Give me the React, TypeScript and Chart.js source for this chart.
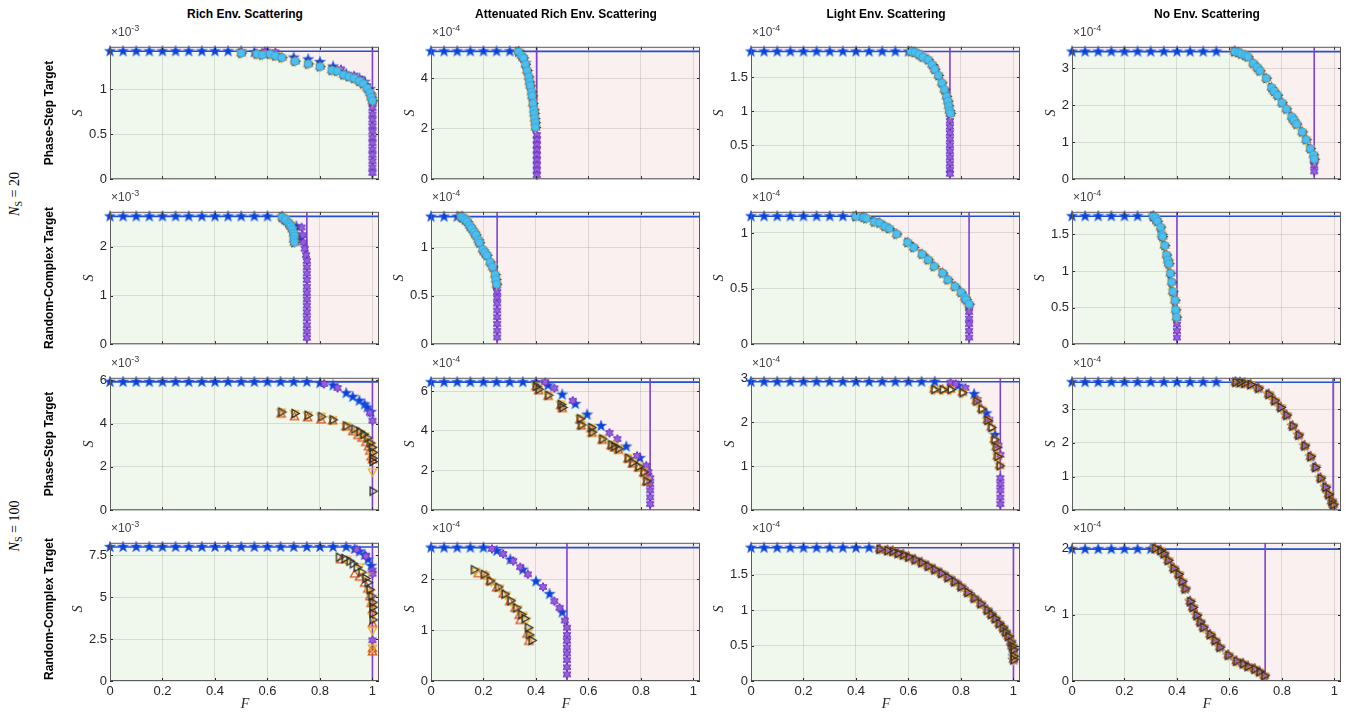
import React, { useEffect, useRef } from "react";
import { Chart, registerables } from "chart.js";
Chart.register(...registerables);

type Pt = [number, number];

// ---------- labels ----------
const columnTitles = ["Rich Env. Scattering", "Attenuated Rich Env. Scattering", "Light Env. Scattering", "No Env. Scattering"];
const rowTargets = ["Phase-Step Target", "Random-Complex Target", "Phase-Step Target", "Random-Complex Target"];
const groupSizes = ["20", "100"];
const xTicks = [0, 0.2, 0.4, 0.6, 0.8, 1];
const starGridF = [0, 0.05, 0.1, 0.15, 0.2, 0.25, 0.3, 0.35, 0.4, 0.45, 0.5, 0.55, 0.6, 0.65, 0.7, 0.75, 0.8, 0.85, 0.9];

// ---------- per-panel scalars (rows x cols) ----------
const exponents = [[-3, -4, -4, -4], [-3, -4, -4, -4], [-3, -4, -4, -4], [-3, -4, -4, -4]];
const yTickSets = [
  [[0, 0.5, 1], [0, 2, 4], [0, 0.5, 1, 1.5], [0, 1, 2, 3]],
  [[0, 1, 2], [0, 0.5, 1], [0, 0.5, 1], [0, 0.5, 1, 1.5]],
  [[0, 2, 4, 6], [0, 2, 4, 6], [0, 1, 2, 3], [0, 1, 2, 3]],
  [[0, 2.5, 5, 7.5], [0, 1, 2], [0, 0.5, 1, 1.5], [0, 1, 2]],
];
const yMaxes = [[1.47, 5.24, 1.95, 3.58], [2.72, 1.37, 1.19, 1.81], [6.11, 6.68, 3.01, 3.93], [8.25, 2.72, 1.95, 2.085]];
const sMaxes = [[1.42, 5.06, 1.88, 3.45], [2.625, 1.32, 1.15, 1.75], [5.92, 6.46, 2.92, 3.8], [8.0, 2.625, 1.88, 1.99]];
const thresholds = [[1.0, 0.403, 0.758, 0.923], [0.75, 0.252, 0.831, 0.4], [1.0, 0.835, 0.95, 0.995], [1.0, 0.518, 1.0, 0.736]];
const flatCounts = [[10, 7, 12, 12], [13, 3, 8, 6], [16, 9, 15, 12], [19, 5, 10, 7]];
const xMax = 1.025;

// ---------- row 1: N_S = 20, phase-step ----------
const richPS20Star: Pt[] = [[0.5, 1.42], [0.55, 1.41], [0.6, 1.41], [0.7, 1.35], [0.755, 1.33], [0.8, 1.3], [0.85, 1.25], [0.9, 1.17], [0.95, 1.12], [0.97, 1.08], [0.99, 1.0]];
const richPS20Purple: Pt[] = [[0.59, 1.42], [0.63, 1.41], [0.88, 1.22], [0.93, 1.15], [0.96, 1.1], [0.98, 1.03], [1.0, 0.92]];
const richPS20Drop = [0.85, 0.79, 0.72, 0.66, 0.59, 0.53, 0.46, 0.4, 0.33, 0.27, 0.2, 0.13, 0.07];
const richPS20Curve: Pt[] = [[0.5, 1.4], [0.56, 1.39], [0.58, 1.38], [0.61, 1.39], [0.63, 1.37], [0.655, 1.35], [0.705, 1.31], [0.755, 1.28], [0.8, 1.25], [0.845, 1.21], [0.865, 1.2], [0.89, 1.16], [0.91, 1.14], [0.93, 1.12], [0.95, 1.09], [0.965, 1.06], [0.98, 1.01], [0.99, 0.96], [0.995, 0.91], [1.0, 0.87]];

const attPS20Star: Pt[] = [[0.335, 5.04], [0.36, 4.6]];
const attPS20Purple: Pt[] = [[0.34, 5.0], [0.385, 3.3], [0.4, 2.1]];
const attPS20Drop = [1.75, 1.55, 1.35, 1.15, 0.95, 0.75, 0.55, 0.35, 0.16];
const attPS20Curve: Pt[] = [[0.333, 5.05], [0.345, 4.9], [0.352, 4.8], [0.36, 4.55], [0.366, 4.3], [0.372, 4.05], [0.375, 3.85], [0.378, 3.7], [0.383, 3.45], [0.385, 3.3], [0.388, 3.0], [0.392, 2.75], [0.393, 2.6], [0.395, 2.4], [0.397, 2.24], [0.398, 2.05]];

const lightPS20Star: Pt[] = [[0.6, 1.88], [0.65, 1.82]];
const lightPS20Purple: Pt[] = [[0.62, 1.88], [0.7, 1.64], [0.745, 1.24], [0.758, 0.96]];
const lightPS20Drop = [0.86, 0.77, 0.68, 0.59, 0.5, 0.41, 0.32, 0.23, 0.14, 0.08];
const lightPS20Curve: Pt[] = [[0.61, 1.88], [0.625, 1.87], [0.64, 1.84], [0.655, 1.8], [0.675, 1.76], [0.69, 1.69], [0.7, 1.62], [0.714, 1.53], [0.727, 1.42], [0.737, 1.32], [0.745, 1.22], [0.75, 1.15], [0.753, 1.08], [0.756, 1.01], [0.76, 0.97]];

const nonePS20Star: Pt[] = [[0.62, 3.46]];
const nonePS20Purple: Pt[] = [[0.63, 3.44], [0.923, 0.5]];
const nonePS20Drop = [0.37, 0.21];
const nonePS20Curve: Pt[] = [[0.62, 3.45], [0.635, 3.43], [0.645, 3.39], [0.66, 3.35], [0.67, 3.31], [0.69, 3.14], [0.705, 3.03], [0.716, 2.93], [0.74, 2.73], [0.76, 2.48], [0.77, 2.38], [0.783, 2.27], [0.8, 2.07], [0.817, 1.9], [0.837, 1.69], [0.845, 1.6], [0.856, 1.49], [0.877, 1.28], [0.892, 1.07], [0.908, 0.83], [0.92, 0.66], [0.923, 0.54]];

// ---------- row 2: N_S = 20, random-complex ----------
const richRC20Star: Pt[] = [[0.656, 2.62], [0.71, 2.42], [0.724, 2.17]];
const richRC20Purple: Pt[] = [[0.73, 2.4], [0.734, 2.24], [0.737, 2.09], [0.742, 1.96], [0.747, 1.83]];
const richRC20Drop = [1.71, 1.58, 1.45, 1.32, 1.18, 1.05, 0.92, 0.79, 0.66, 0.53, 0.39, 0.26, 0.13];
const richRC20Curve: Pt[] = [[0.656, 2.61], [0.665, 2.57], [0.67, 2.55], [0.68, 2.5], [0.686, 2.46], [0.69, 2.42], [0.695, 2.36], [0.7, 2.28], [0.703, 2.22], [0.7, 2.15], [0.703, 2.09]];

const attRC20Star: Pt[] = [[0.12, 1.32]];
const attRC20Purple: Pt[] = [[0.25, 0.6]];
const attRC20Drop = [0.54, 0.48, 0.42, 0.35, 0.28, 0.21, 0.14, 0.07];
const attRC20Curve: Pt[] = [[0.115, 1.32], [0.121, 1.31], [0.13, 1.29], [0.138, 1.27], [0.147, 1.23], [0.155, 1.2], [0.165, 1.16], [0.171, 1.13], [0.18, 1.08], [0.185, 1.05], [0.197, 0.98], [0.205, 0.95], [0.213, 0.92], [0.225, 0.85], [0.235, 0.8], [0.244, 0.72], [0.247, 0.67], [0.25, 0.62]];

const lightRC20Star: Pt[] = [[0.4, 1.15]];
const lightRC20Purple: Pt[] = [[0.831, 0.34]];
const lightRC20Drop = [0.29, 0.23, 0.18, 0.12, 0.06];
const lightRC20Curve: Pt[] = [[0.4, 1.15], [0.43, 1.14], [0.44, 1.13], [0.47, 1.1], [0.49, 1.09], [0.51, 1.06], [0.527, 1.04], [0.555, 0.99], [0.597, 0.915], [0.62, 0.87], [0.652, 0.81], [0.675, 0.76], [0.698, 0.7], [0.73, 0.64], [0.75, 0.58], [0.777, 0.52], [0.8, 0.467], [0.815, 0.42], [0.82, 0.4], [0.831, 0.36]];

const noneRC20Star: Pt[] = [[0.31, 1.75]];
const noneRC20Purple: Pt[] = [[0.4, 0.36]];
const noneRC20Drop = [0.27, 0.18, 0.09];
const noneRC20Curve: Pt[] = [[0.31, 1.75], [0.318, 1.72], [0.325, 1.68], [0.3375, 1.6], [0.342, 1.5], [0.345, 1.47], [0.353, 1.35], [0.36, 1.22], [0.365, 1.15], [0.369, 1.1], [0.375, 0.97], [0.38, 0.85], [0.384, 0.72], [0.392, 0.6], [0.395, 0.47], [0.398, 0.37]];

// ---------- row 3: N_S = 100, phase-step ----------
const richPS100Star: Pt[] = [[0.8, 5.87], [0.85, 5.76], [0.9, 5.4], [0.925, 5.23], [0.95, 5.05], [0.97, 4.88], [0.98, 4.74], [0.994, 4.53]];
const richPS100Purple: Pt[] = [[0.816, 5.83], [0.867, 5.64], [0.99, 4.5], [1.0, 4.13]];
const richPS100Drop: number[] = [];
const richPS100Black: Pt[] = [[0.652, 4.53], [0.703, 4.46], [0.753, 4.38], [0.804, 4.31], [0.848, 4.17], [0.899, 3.89], [0.93, 3.75], [0.95, 3.62], [0.965, 3.5], [0.98, 3.33], [0.99, 3.1], [0.997, 2.9], [1.0, 2.67], [1.0, 2.4], [1.0, 2.25], [1.0, 0.88]];
const richPS100Orange: Pt[] = [[0.652, 4.41], [0.703, 4.29], [0.753, 4.24], [0.804, 4.14], [0.848, 4.1], [0.899, 3.82], [0.925, 3.6], [0.945, 3.42], [0.96, 3.3], [0.975, 3.1], [0.985, 2.9], [0.99, 2.7], [0.995, 2.43], [1.0, 2.3]];
const richPS100Yellow: Pt[] = [[0.652, 4.55], [0.703, 4.48], [0.753, 4.42], [0.804, 4.36], [0.848, 4.2], [0.899, 3.92], [0.935, 3.7], [0.955, 3.55], [0.97, 3.45], [0.985, 3.2], [0.995, 3.0], [1.0, 2.8], [1.0, 2.5], [1.0, 1.8]];

const attPS100Star: Pt[] = [[0.446, 6.3], [0.5, 5.83], [0.55, 5.36], [0.595, 4.82], [0.648, 4.25], [0.744, 3.21], [0.796, 2.63]];
const attPS100Purple: Pt[] = [[0.435, 6.46], [0.47, 6.15], [0.54, 5.52], [0.68, 3.9], [0.71, 3.59], [0.785, 2.74], [0.82, 2.24], [0.828, 1.93]];
const attPS100Drop = [1.62, 1.31, 1.0, 0.65, 0.31];
const attPS100Black: Pt[] = [[0.4, 6.25], [0.41, 6.1], [0.446, 5.8], [0.494, 5.33], [0.5, 5.18], [0.567, 4.61], [0.572, 4.3], [0.61, 4.17], [0.613, 3.94], [0.652, 3.59], [0.686, 3.3], [0.698, 3.21], [0.714, 3.1], [0.75, 2.63], [0.767, 2.4], [0.79, 2.2], [0.81, 1.93], [0.82, 1.47]];
const attPS100Orange: Pt[] = [[0.4, 6.2], [0.41, 6.0], [0.446, 5.72], [0.494, 5.25], [0.5, 5.1], [0.567, 4.52], [0.572, 4.22], [0.61, 4.08], [0.613, 3.86], [0.652, 3.5], [0.686, 3.22], [0.698, 3.12], [0.714, 3.0], [0.75, 2.55], [0.767, 2.3], [0.79, 2.1], [0.81, 1.85], [0.82, 1.4]];
const attPS100Yellow: Pt[] = [[0.4, 6.3], [0.41, 6.15], [0.446, 5.85], [0.494, 5.38], [0.5, 5.24], [0.567, 4.66], [0.572, 4.35], [0.61, 4.2], [0.613, 3.99], [0.652, 3.64], [0.686, 3.35], [0.698, 3.26], [0.714, 3.14], [0.75, 2.68], [0.767, 2.45], [0.79, 2.25], [0.81, 1.98], [0.82, 1.52]];

const lightPS100Star: Pt[] = [[0.79, 2.83], [0.85, 2.64], [0.897, 2.2], [0.93, 1.71]];
const lightPS100Purple: Pt[] = [[0.76, 2.9], [0.78, 2.87], [0.817, 2.78], [0.863, 2.51], [0.908, 2.06], [0.943, 1.47], [0.95, 1.26]];
const lightPS100Drop = [0.73, 0.59, 0.45, 0.29, 0.14];
const lightPS100Black: Pt[] = [[0.698, 2.74], [0.73, 2.74], [0.76, 2.74], [0.805, 2.67], [0.858, 2.48], [0.878, 2.3], [0.9, 2.04], [0.915, 1.88], [0.927, 1.6], [0.934, 1.43], [0.938, 1.22], [0.947, 1.01]];

const nonePS100Curve: Pt[] = [[0.623, 3.8], [0.64, 3.79], [0.657, 3.77], [0.68, 3.73], [0.71, 3.62], [0.749, 3.44], [0.772, 3.25], [0.795, 3.05], [0.817, 2.82], [0.84, 2.5], [0.863, 2.23], [0.886, 1.91], [0.909, 1.59], [0.927, 1.27], [0.947, 0.95], [0.966, 0.68], [0.977, 0.47], [0.989, 0.27], [0.995, 0.16]];

// ---------- row 4: N_S = 100, random-complex ----------
const richRC100Star: Pt[] = [[0.932, 7.88], [0.951, 7.73], [0.97, 7.53], [0.983, 7.25], [0.995, 6.87]];
const richRC100Purple: Pt[] = [[0.94, 7.85], [0.975, 7.45], [1.0, 6.6], [1.0, 6.4], [1.0, 2.43]];
const richRC100Drop: number[] = [];
const richRC100Black: Pt[] = [[0.872, 7.39], [0.893, 7.31], [0.912, 7.16], [0.925, 7.0], [0.94, 6.78], [0.957, 6.5], [0.973, 6.12], [0.982, 5.87], [0.989, 5.45], [0.995, 5.07], [0.999, 4.7], [1.0, 4.4], [1.0, 4.04], [1.0, 3.65]];
const richRC100Orange: Pt[] = [[0.88, 7.2], [0.932, 6.35], [0.951, 6.17], [0.97, 5.8], [0.983, 5.45], [0.99, 5.0], [0.995, 4.6], [1.0, 4.2], [1.0, 3.4], [1.0, 1.9], [1.0, 1.7]];
const richRC100Yellow: Pt[] = [[0.9, 7.25], [0.951, 6.85], [0.975, 6.3], [0.99, 5.3], [0.998, 4.5], [1.0, 3.9], [1.0, 3.05], [1.0, 2.0]];

const attRC100Star: Pt[] = [[0.251, 2.56], [0.302, 2.39], [0.35, 2.19], [0.4, 1.96], [0.452, 1.71], [0.5, 1.35]];
const attRC100Purple: Pt[] = [[0.232, 2.6], [0.275, 2.5], [0.313, 2.36], [0.34, 2.24], [0.369, 2.1], [0.427, 1.85], [0.47, 1.57], [0.49, 1.44], [0.51, 1.19]];
const attRC100Drop = [1.05, 0.91, 0.79, 0.66, 0.54, 0.41, 0.27, 0.13];
const attRC100Black: Pt[] = [[0.163, 2.19], [0.201, 2.1], [0.224, 1.97], [0.255, 1.85], [0.28, 1.71], [0.302, 1.58], [0.324, 1.44], [0.343, 1.31], [0.356, 1.23], [0.369, 1.05], [0.373, 0.91], [0.383, 0.8]];
const attRC100Orange: Pt[] = [[0.18, 2.1], [0.21, 2.07], [0.224, 1.95], [0.25, 1.82], [0.275, 1.7], [0.3, 1.55], [0.32, 1.42], [0.336, 1.28], [0.34, 1.18], [0.366, 0.91], [0.373, 0.77]];
const attRC100Yellow: Pt[] = [[0.17, 2.17], [0.205, 2.09], [0.23, 1.96], [0.26, 1.84], [0.285, 1.7], [0.305, 1.57], [0.33, 1.43], [0.35, 1.3], [0.362, 1.2], [0.372, 1.0], [0.378, 0.85]];

const lightRC100Curve: Pt[] = [[0.49, 1.86], [0.52, 1.84], [0.54, 1.83], [0.56, 1.8], [0.58, 1.78], [0.6, 1.75], [0.625, 1.71], [0.65, 1.67], [0.675, 1.62], [0.7, 1.57], [0.725, 1.52], [0.75, 1.46], [0.775, 1.4], [0.8, 1.33], [0.825, 1.25], [0.85, 1.17], [0.875, 1.09], [0.9, 1.0], [0.915, 0.94], [0.93, 0.88], [0.945, 0.81], [0.96, 0.75], [0.97, 0.69], [0.98, 0.63], [0.99, 0.55], [0.995, 0.49], [1.0, 0.44], [1.0, 0.35], [1.0, 0.3]];

const noneRC100Curve: Pt[] = [[0.316, 2.0], [0.337, 1.97], [0.35, 1.92], [0.366, 1.82], [0.387, 1.7], [0.406, 1.61], [0.419, 1.5], [0.431, 1.39], [0.45, 1.2], [0.46, 1.11], [0.475, 0.99], [0.488, 0.89], [0.5, 0.81], [0.526, 0.7], [0.545, 0.61], [0.563, 0.51], [0.595, 0.39], [0.626, 0.3], [0.652, 0.26], [0.67, 0.22], [0.696, 0.18], [0.714, 0.14], [0.733, 0.08]];

const noDrop: number[] = [];

type Series = { star: Pt[]; purple: Pt[]; drop: number[]; cyan: Pt[] | null; black: Pt[]; orange: Pt[]; yellow: Pt[] };
const panelSeries: Series[][] = [
  [
    { star: richPS20Star, purple: richPS20Purple, drop: richPS20Drop, cyan: richPS20Curve, black: richPS20Curve, orange: richPS20Curve, yellow: richPS20Curve },
    { star: attPS20Star, purple: attPS20Purple, drop: attPS20Drop, cyan: attPS20Curve, black: attPS20Curve, orange: attPS20Curve, yellow: attPS20Curve },
    { star: lightPS20Star, purple: lightPS20Purple, drop: lightPS20Drop, cyan: lightPS20Curve, black: lightPS20Curve, orange: lightPS20Curve, yellow: lightPS20Curve },
    { star: nonePS20Star, purple: nonePS20Purple, drop: nonePS20Drop, cyan: nonePS20Curve, black: nonePS20Curve, orange: nonePS20Curve, yellow: nonePS20Curve },
  ],
  [
    { star: richRC20Star, purple: richRC20Purple, drop: richRC20Drop, cyan: richRC20Curve, black: richRC20Curve, orange: richRC20Curve, yellow: richRC20Curve },
    { star: attRC20Star, purple: attRC20Purple, drop: attRC20Drop, cyan: attRC20Curve, black: attRC20Curve, orange: attRC20Curve, yellow: attRC20Curve },
    { star: lightRC20Star, purple: lightRC20Purple, drop: lightRC20Drop, cyan: lightRC20Curve, black: lightRC20Curve, orange: lightRC20Curve, yellow: lightRC20Curve },
    { star: noneRC20Star, purple: noneRC20Purple, drop: noneRC20Drop, cyan: noneRC20Curve, black: noneRC20Curve, orange: noneRC20Curve, yellow: noneRC20Curve },
  ],
  [
    { star: richPS100Star, purple: richPS100Purple, drop: richPS100Drop, cyan: null, black: richPS100Black, orange: richPS100Orange, yellow: richPS100Yellow },
    { star: attPS100Star, purple: attPS100Purple, drop: attPS100Drop, cyan: null, black: attPS100Black, orange: attPS100Orange, yellow: attPS100Yellow },
    { star: lightPS100Star, purple: lightPS100Purple, drop: lightPS100Drop, cyan: null, black: lightPS100Black, orange: lightPS100Black, yellow: lightPS100Black },
    { star: nonePS100Curve, purple: nonePS100Curve, drop: noDrop, cyan: null, black: nonePS100Curve, orange: nonePS100Curve, yellow: nonePS100Curve },
  ],
  [
    { star: richRC100Star, purple: richRC100Purple, drop: richRC100Drop, cyan: null, black: richRC100Black, orange: richRC100Orange, yellow: richRC100Yellow },
    { star: attRC100Star, purple: attRC100Purple, drop: attRC100Drop, cyan: null, black: attRC100Black, orange: attRC100Orange, yellow: attRC100Yellow },
    { star: lightRC100Curve, purple: lightRC100Curve, drop: noDrop, cyan: null, black: lightRC100Curve, orange: lightRC100Curve, yellow: lightRC100Curve },
    { star: noneRC100Curve, purple: noneRC100Curve, drop: noDrop, cyan: null, black: noneRC100Curve, orange: noneRC100Curve, yellow: noneRC100Curve },
  ],
];

// ---------- layout & style ----------
const colLeft = [110, 431, 751, 1072];
const rowTop = [41, 206, 372, 537];
const plotW = 270;
const plotH = 144;
const axisW = 60;
const SANS = "'Liberation Sans', Arial, Helvetica, sans-serif";
const SERIF = "'Liberation Serif', 'DejaVu Serif', serif";
const PINK = "#faf0ef";
const GREEN = "#f0f7ec";
const GRID = "rgba(38,38,38,0.13)";
const BOX = "#5c5c5c";
const TEXT = "#262626";

function polyPath(ctx: CanvasRenderingContext2D, c: number, R: number, r: number, n: number, rot: number) {
  ctx.beginPath();
  for (let i = 0; i < 2 * n; i++) {
    const rad = i % 2 === 0 ? R : r;
    const a = rot + (i * Math.PI) / n;
    const px = c + rad * Math.cos(a);
    const py = c + rad * Math.sin(a);
    if (i === 0) ctx.moveTo(px, py);
    else ctx.lineTo(px, py);
  }
  ctx.closePath();
}

function makeCanvas(size: number, draw: (ctx: CanvasRenderingContext2D, c: number) => void) {
  const cv = document.createElement("canvas");
  cv.width = size;
  cv.height = size;
  const ctx = cv.getContext("2d")!;
  draw(ctx, size / 2);
  return cv;
}

function triangle(ctx: CanvasRenderingContext2D, c: number, R: number, angle: number, color: string) {
  ctx.beginPath();
  for (let i = 0; i < 3; i++) {
    const a = angle + (i * 2 * Math.PI) / 3;
    const px = c + R * Math.cos(a);
    const py = c + R * Math.sin(a);
    if (i === 0) ctx.moveTo(px, py);
    else ctx.lineTo(px, py);
  }
  ctx.closePath();
  ctx.strokeStyle = color;
  ctx.lineWidth = 1.3;
  ctx.stroke();
}

function buildMarkers() {
  return {
    star: makeCanvas(14, (ctx, c) => {
      polyPath(ctx, c, 5.8, 2.4, 5, -Math.PI / 2);
      ctx.fillStyle = "#0c43d6";
      ctx.fill();
      ctx.strokeStyle = "#3a70ee";
      ctx.lineWidth = 0.6;
      ctx.stroke();
    }),
    hexa: makeCanvas(12, (ctx, c) => {
      polyPath(ctx, c, 4.4, 2.5, 6, -Math.PI / 2);
      ctx.fillStyle = "#9460de";
      ctx.fill();
      ctx.strokeStyle = "#6a2bc2";
      ctx.lineWidth = 1;
      ctx.stroke();
    }),
    cyan: makeCanvas(12, (ctx, c) => {
      ctx.beginPath();
      ctx.arc(c, c, 4, 0, Math.PI * 2);
      ctx.fillStyle = "#4dbeee";
      ctx.fill();
      ctx.strokeStyle = "#36a3d8";
      ctx.lineWidth = 0.8;
      ctx.stroke();
    }),
    orange: makeCanvas(13, (ctx, c) => triangle(ctx, c, 4.8, -Math.PI / 2, "#d95319")),
    yellow: makeCanvas(13, (ctx, c) => triangle(ctx, c, 4.8, Math.PI / 2, "#edb120")),
    black: makeCanvas(13, (ctx, c) => triangle(ctx, c, 4.8, 0, "#2e2e2e")),
  };
}

// Upper (Pareto) envelope of all marks: the area it dominates is shaded green.
function pareto(points: Pt[]): Pt[] {
  const sorted = [...points].sort((a, b) => (b[0] - a[0]) || (b[1] - a[1]));
  const out: Pt[] = [];
  let best = -Infinity;
  for (const p of sorted) {
    if (p[1] > best) {
      out.push(p);
      best = p[1];
    }
  }
  return out.reverse();
}

function labelWidth(ticks: number[]) {
  return ticks.some((t) => !Number.isInteger(t)) ? 18 : 7;
}

export default function App() {
  const refs = useRef<(HTMLCanvasElement | null)[]>([]);

  useEffect(() => {
    const charts: Chart[] = [];
    const mk = buildMarkers();
    for (let r = 0; r < 4; r++) {
      for (let c = 0; c < 4; c++) {
        const cv = refs.current[r * 4 + c];
        if (!cv) continue;
        const s = panelSeries[r][c];
        const sMax = sMaxes[r][c];
        const thr = thresholds[r][c];
        const yMax = yMaxes[r][c];
        const yTicks = yTickSets[r][c];
        const isBottom = r === 3;
        const flat: Pt[] = starGridF.slice(0, flatCounts[r][c]).map((f) => [f, sMax] as Pt);
        const drop: Pt[] = s.drop.map((v) => [thr, v] as Pt);
        const allPts: Pt[] = [...flat, ...s.star, ...s.purple, ...drop, ...s.black, ...s.orange, ...s.yellow, ...(s.cyan || [])];
        const frontier = pareto(allPts);

        const pts = (arr: Pt[]) => arr.map(([x, y]) => ({ x, y }));
        const markerSet = (arr: Pt[], style: HTMLCanvasElement) => ({
          data: pts(arr),
          pointStyle: style,
          pointRadius: 5,
          showLine: false,
          clip: false as const,
        });
        const datasets: any[] = [];
        if (s.cyan) datasets.push(markerSet(s.cyan, mk.cyan));
        datasets.push(markerSet(s.black, mk.black));
        datasets.push(markerSet(s.yellow, mk.yellow));
        datasets.push(markerSet(s.orange, mk.orange));
        datasets.push(markerSet([...s.purple, ...drop], mk.hexa));
        datasets.push(markerSet([...flat, ...s.star], mk.star));
        datasets.push({ data: [{ x: thr, y: 0 }, { x: thr, y: yMax }], showLine: true, pointRadius: 0, borderColor: "#7c42cf", borderWidth: 1.6 });
        datasets.push({ data: [{ x: 0, y: sMax }, { x: xMax, y: sMax }], showLine: true, pointRadius: 0, borderColor: "#2250d2", borderWidth: 1.6 });

        const decor = {
          id: "decor" + r + c,
          beforeDraw(chart: any) {
            const { ctx, chartArea: a } = chart;
            const xs = chart.scales.x;
            const ys = chart.scales.y;
            ctx.save();
            ctx.fillStyle = PINK;
            ctx.fillRect(a.left, a.top, a.right - a.left, a.bottom - a.top);
            ctx.beginPath();
            ctx.moveTo(xs.getPixelForValue(0), ys.getPixelForValue(0));
            ctx.lineTo(xs.getPixelForValue(0), ys.getPixelForValue(frontier[0][1]));
            frontier.forEach(([f, v]) => ctx.lineTo(xs.getPixelForValue(f), ys.getPixelForValue(v)));
            const last = frontier[frontier.length - 1];
            ctx.lineTo(xs.getPixelForValue(last[0]), ys.getPixelForValue(0));
            ctx.closePath();
            ctx.fillStyle = GREEN;
            ctx.fill();
            ctx.restore();
          },
          afterDraw(chart: any) {
            const { ctx, chartArea: a } = chart;
            const xs = chart.scales.x;
            const ys = chart.scales.y;
            ctx.save();
            ctx.strokeStyle = TEXT;
            ctx.lineWidth = 1;
            ctx.beginPath();
            xTicks.forEach((v) => {
              const px = Math.round(xs.getPixelForValue(v)) + 0.5;
              ctx.moveTo(px, a.bottom);
              ctx.lineTo(px, a.bottom - 3);
              ctx.moveTo(px, a.top);
              ctx.lineTo(px, a.top + 3);
            });
            yTicks.forEach((v) => {
              const py = Math.round(ys.getPixelForValue(v)) + 0.5;
              ctx.moveTo(a.left, py);
              ctx.lineTo(a.left + 3, py);
              ctx.moveTo(a.right, py);
              ctx.lineTo(a.right - 3, py);
            });
            ctx.stroke();
            ctx.strokeStyle = BOX;
            ctx.strokeRect(a.left + 0.5, a.top + 0.5, a.right - a.left - 1, a.bottom - a.top - 1);
            ctx.restore();
          },
        };

        const chart = new Chart(cv, {
          type: "scatter",
          data: { datasets },
          options: {
            responsive: false,
            animation: false,
            devicePixelRatio: 1,
            events: [],
            layout: { padding: { left: 0, top: 5, right: 5, bottom: isBottom ? 0 : 5 } },
            plugins: { legend: { display: false }, tooltip: { enabled: false }, title: { display: false } },
            scales: {
              x: {
                type: "linear",
                min: 0,
                max: xMax,
                afterBuildTicks: (sc: any) => {
                  sc.ticks = xTicks.map((v) => ({ value: v }));
                },
                afterFit: (sc: any) => {
                  sc.height = isBottom ? 40 : 0;
                },
                grid: { color: GRID, drawTicks: false, lineWidth: 1 },
                border: { display: false },
                ticks: {
                  display: isBottom,
                  autoSkip: false,
                  maxRotation: 0,
                  padding: 3,
                  color: TEXT,
                  font: { family: SANS, size: 13 },
                  callback: (v: any) => String(v),
                },
              },
              y: {
                type: "linear",
                min: 0,
                max: yMax,
                afterBuildTicks: (sc: any) => {
                  sc.ticks = yTicks.map((v) => ({ value: v }));
                },
                afterFit: (sc: any) => {
                  sc.width = axisW;
                },
                grid: { color: GRID, drawTicks: false, lineWidth: 1 },
                border: { display: false },
                ticks: {
                  autoSkip: false,
                  padding: 3,
                  color: TEXT,
                  font: { family: SANS, size: 13 },
                  callback: (v: any) => String(v),
                },
              },
            },
          } as any,
          plugins: [decor],
        });
        charts.push(chart);
      }
    }
    return () => charts.forEach((ch) => ch.destroy());
  }, []);

  const canvases: React.ReactNode[] = [];
  const texts: React.ReactNode[] = [];
  for (let r = 0; r < 4; r++) {
    for (let c = 0; c < 4; c++) {
      const isBottom = r === 3;
      const w = axisW + plotW + 5;
      const h = 5 + plotH + (isBottom ? 40 : 5);
      const idx = r * 4 + c;
      canvases.push(
        <canvas
          key={"cv" + idx}
          ref={(el) => {
            refs.current[idx] = el;
          }}
          width={w}
          height={h}
          style={{ position: "absolute", left: colLeft[c] - axisW, top: rowTop[r] - 5, width: w, height: h }}
        />
      );
      texts.push(
        <div
          key={"ex" + idx}
          style={{ position: "absolute", left: colLeft[c] + 1, top: rowTop[r] - 16, fontFamily: SANS, fontSize: 12, lineHeight: "14px", color: "#404040", whiteSpace: "nowrap" }}
        >
          ×10
          <span style={{ fontSize: 9, position: "relative", top: -5 }}>{String(exponents[r][c])}</span>
        </div>
      );
      const sx = colLeft[c] - 3 - labelWidth(yTickSets[r][c]) - 11;
      texts.push(
        <div
          key={"sl" + idx}
          style={{ position: "absolute", left: sx, top: rowTop[r] + plotH / 2, transform: "translate(-50%,-50%) rotate(-90deg)", fontFamily: SERIF, fontStyle: "italic", fontSize: 14, color: TEXT, whiteSpace: "nowrap" }}
        >
          S
        </div>
      );
    }
  }

  return (
    <div style={{ position: "absolute", left: 0, top: 0, width: 1351, height: 715, background: "#ffffff", overflow: "hidden" }}>
      {canvases}
      {texts}
      {columnTitles.map((t, c) => (
        <div
          key={"ct" + c}
          style={{ position: "absolute", left: colLeft[c] + plotW / 2, top: 14, transform: "translate(-50%,-50%)", fontFamily: SANS, fontWeight: "bold", fontSize: 12, color: "#000", whiteSpace: "nowrap" }}
        >
          {t}
        </div>
      ))}
      {rowTargets.map((t, r) => (
        <div
          key={"rt" + r}
          style={{ position: "absolute", left: 49, top: rowTop[r] + plotH / 2, transform: "translate(-50%,-50%) rotate(-90deg)", fontFamily: SANS, fontWeight: "bold", fontSize: 12, color: "#000", whiteSpace: "nowrap" }}
        >
          {t}
        </div>
      ))}
      {groupSizes.map((g, i) => (
        <div
          key={"gs" + i}
          style={{ position: "absolute", left: 15, top: i === 0 ? 194 : 526, transform: "translate(-50%,-50%) rotate(-90deg)", fontFamily: SERIF, fontSize: 14, color: "#000", whiteSpace: "nowrap" }}
        >
          <i>N</i>
          <span style={{ fontSize: 10, position: "relative", top: 3 }}>S</span> = {g}
        </div>
      ))}
      {colLeft.map((l, c) => (
        <div
          key={"fl" + c}
          style={{ position: "absolute", left: l + plotW / 2, top: 704, transform: "translate(-50%,-50%)", fontFamily: SERIF, fontStyle: "italic", fontSize: 14, color: TEXT }}
        >
          F
        </div>
      ))}
    </div>
  );
}
